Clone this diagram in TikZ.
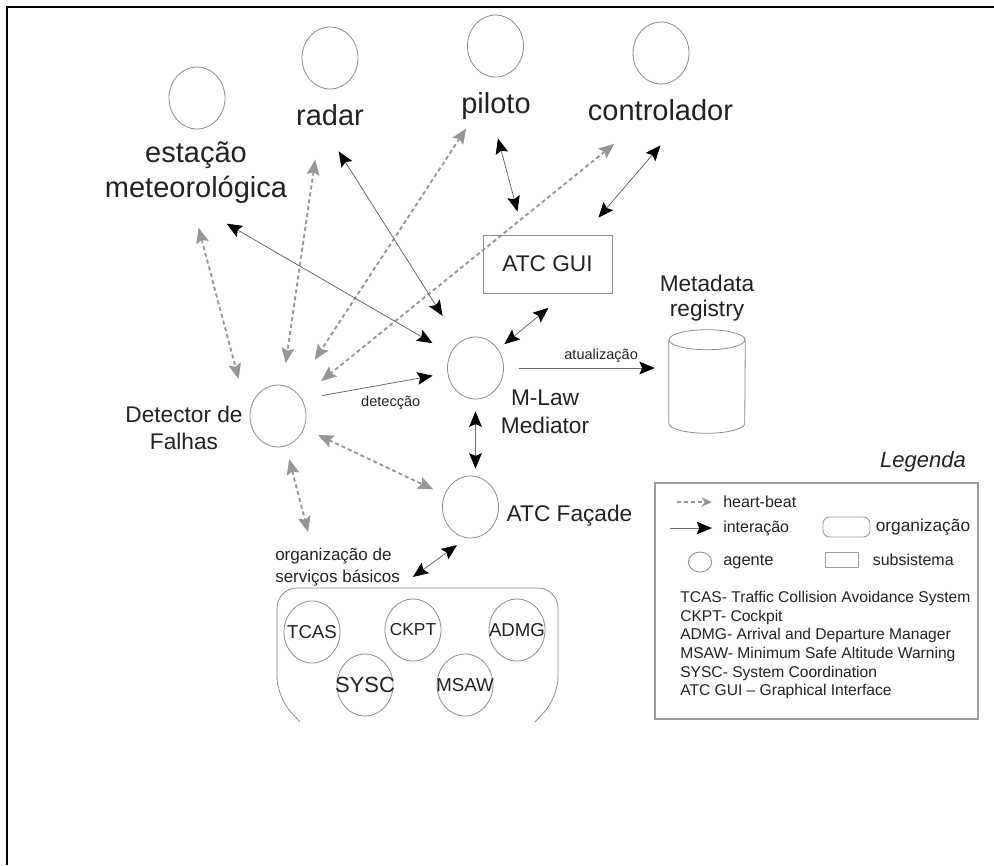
\documentclass[tikz,border=0pt]{standalone}
\usepackage{fontspec}
\setmainfont{Liberation Sans}
\usepackage{tikz}
\usetikzlibrary{arrows.meta, positioning, calc, shapes.geometric}
\definecolor{txt}{HTML}{222222}
\definecolor{circc}{HTML}{8C8C8C}
\definecolor{interc}{HTML}{6A6A6A}
\definecolor{beatc}{HTML}{969696}
\definecolor{legc}{HTML}{9C9C9C}
\tikzset{
>=Stealth,
text=txt,
blk/.tip={Stealth[length=11.5pt, width=9.5pt, inset=2pt, color=black]},
gry/.tip={Stealth[length=11.5pt, width=9.5pt, inset=2pt, color=beatc]},
agent/.style={%
    ellipse,
    draw=circc, line width=0.6pt,
    minimum width=42pt, minimum height=46.5pt,
    inner sep=0pt
},
big/.style={font=\fontsize{21.75}{26.25}\selectfont, align=center, inner sep=0pt},
mid/.style={font=\fontsize{17}{20.5}\selectfont, align=center, inner sep=0pt},
small/.style={font=\fontsize{10.9}{13}\selectfont, inner sep=0pt},
sub/.style={agent, font=\fontsize{14}{16}\selectfont},
box/.style={%
    rectangle,
    draw=circc, line width=0.7pt,
    minimum width=96.75pt, minimum height=43.5pt,
    font=\fontsize{17}{20}\selectfont
},
leg/.style={font=\fontsize{12}{14}\selectfont, inner sep=0pt},
inter/.style={draw=interc, line width=0.6pt, blk-blk},
inter1/.style={draw=interc, line width=0.6pt, -blk},
beat/.style={draw=beatc, line width=1.4pt, dash pattern=on 3pt off 2.25pt, gry-gry},
thin/.style={draw=circc, line width=0.6pt},
frame/.style={draw=black, line width=1.5pt},
}

\begin{document}
\begin{tikzpicture}[x=0.75pt, y=-0.75pt]
\useasboundingbox (0,0) rectangle (994,865);
\draw[frame] (7,865) -- (7,7) -- (994,7);

% agentes externos
\node[agent] (est) at (197,98) {};
\node[big] (estlbl) at (196,172.5) {estação\\meteorológica};
\node[agent] (radar) at (330,58) {};
\node[big, anchor=base] (radarlbl) at (330,125) {radar};
\node[agent] (pil) at (495.5,46) {};
\node[big, anchor=base] (pillbl) at (496,113) {piloto};
\node[agent] (ctl) at (661,53) {};
\node[big, anchor=base] (ctllbl) at (660.5,120) {controlador};

% subsistema e registro
\node[box] (gui) at (547.5,264) {ATC GUI};
\node[mid, font=\fontsize{17}{19}\selectfont] (metalbl) at (707,298) {Metadata\\registry};
\node[inner sep=0pt, minimum width=57pt, minimum height=62.25pt] (meta) at (707,381.5) {};
\draw[thin] (meta.north) ellipse [x radius=28.5pt, y radius=7.5pt];
\draw[thin] (meta.north west) -- (meta.south west)
    arc[start angle=180, end angle=360, x radius=28.5pt, y radius=7.5pt] -- (meta.north east);

% agentes internos
\node[agent] (mlaw) at (475.5,368) {};
\node[mid, font=\fontsize{17}{21}\selectfont] (mlawlbl) at (545,411.5) {M-Law\\Mediator};
\node[agent] (det) at (278,416) {};
\node[mid, font=\fontsize{17}{20.25}\selectfont] (detlbl) at (184,428) {Detector de\\Falhas};
\node[agent] (fac) at (470.5,507) {};
\node[mid, anchor=base] (faclbl) at (569.5,521) {ATC Façade};

% organizacao de servicos basicos
\node[align=left, inner sep=0pt, anchor=north west, font=\fontsize{12.75}{16.5}\selectfont]
    (orglbl) at (275,547.6) {organização de\\serviços básicos};
\draw[thin, rounded corners=15pt] (300,722) -- (277,697) -- (277,588) -- (558,588) -- (558,697) -- (535,722);
\node[sub] (tcas) at (312,632) {\makebox[0pt]{TCAS}};
\node[sub, font=\fontsize{13}{15}\selectfont] (ckpt) at (413,630) {\makebox[0pt]{CKPT}};
\node[sub] (admg) at (517,630) {\makebox[0pt]{ADMG}};
\node[sub, font=\fontsize{16.5}{18}\selectfont] (sysc) at (365,685) {\makebox[0pt]{SYSC}};
\node[sub] (msaw) at (465,685) {\makebox[0pt]{MSAW}};

% heart-beat
\draw[beat, shorten <=18.6pt, shorten >=34.1pt] (estlbl.-97) -- (det.194);
\draw[beat, shorten <=53.5pt, shorten >=16.5pt] (radar) -- (det);
\draw[beat, shorten <=8.1pt, shorten >=27.5pt] (pillbl.-150) -- (det);
\draw[beat, shorten <=27.8pt, shorten >=19.5pt] (ctllbl.-148) -- (det);
\draw[beat, shorten <=11.5pt, shorten >=9.2pt] (det) -- (fac);
\draw[beat, shorten <=10pt, shorten >=12.1pt] (det) -- (orglbl.143);

% interacao
\draw[inter, shorten <=29.9pt, shorten >=15.5pt] (estlbl.-97) -- (mlaw);
\draw[inter, shorten <=22.9pt, shorten >=23.4pt] (radarlbl.-125) -- (mlaw);
\draw[inter, shorten <=14.8pt, shorten >=17.9pt] (pillbl.-103) -- (gui.129);
\draw[inter, shorten <=24.6pt, shorten >=16.7pt] (ctllbl.-27) -- (gui.39);
\draw[inter, shorten <=5.9pt, shorten >=17pt] (mlaw) -- (gui.-58);
\draw[inter1, shorten <=11.25pt, shorten >=10.5pt] (mlaw.east) -- (mlaw.east -| meta.west)
    node[small, pos=0.59, above=4pt] (atu) {atualização};
\draw[inter1, shorten <=15.4pt, shorten >=11.3pt] (det.35) -- (mlaw)
    node[small, pos=0.61, below=9pt] (detc) {detecção};
\draw[inter, shorten <=9pt, shorten >=5.25pt] (mlaw.south) -- (mlaw.south |- fac.north);
\draw[inter, shorten <=9pt, shorten >=11.7pt] (fac.263) -- (orglbl.south east);

% legenda
\node[font=\fontsize{16.5}{20}\selectfont\itshape, inner sep=0pt, anchor=base] (legtitle) at (923,467) {Legenda};
\node[draw=legc, line width=1pt, minimum width=242.25pt, minimum height=177pt, inner sep=0pt] (legend) at (816.5,601) {};
\coordinate (hbA) at (677,502);
\coordinate (hbB) at (712,502);
\draw[beat, line width=1pt, -{Stealth[length=8pt, width=7pt, color=beatc]}] (hbA) -- (hbB);
\node[leg, right=8.25pt of hbB] (hbtxt) {heart-beat};
\coordinate (intA) at (670,528);
\coordinate (intB) at (712,528);
\draw[inter1] (intA) -- (intB);
\node[leg, right=8.25pt of intB] (inttxt) {interação};
\node[agent, minimum width=17.5pt, minimum height=15pt] (legag) at (700,562) {};
\node[leg, font=\fontsize{12.3}{14}\selectfont, right=8.25pt of legag] (agtxt) {agente};
\node[draw=legc, line width=0.7pt, rounded corners=5pt, minimum width=35.25pt, minimum height=15pt, inner sep=0pt] (legorg) at (846.5,527) {};
\node[leg, font=\fontsize{13}{15}\selectfont, right=3.75pt of legorg] (orgtxt) {organização};
\node[draw=legc, line width=0.7pt, minimum width=24.75pt, minimum height=11.25pt, inner sep=0pt] (legsub) at (841.5,559.5) {};
\node[leg, right=10.5pt of legsub] (subtxt) {subsistema};
\node[align=left, inner sep=0pt, anchor=north west, font=\fontsize{11.7}{14}\selectfont] (abbr) at (680,591)
    {TCAS- Traffic Collision Avoidance System\\CKPT- Cockpit\\ADMG- Arrival and Departure Manager\\MSAW- Minimum Safe Altitude Warning\\SYSC- System Coordination\\ATC GUI – Graphical Interface};
\end{tikzpicture}
\end{document}
